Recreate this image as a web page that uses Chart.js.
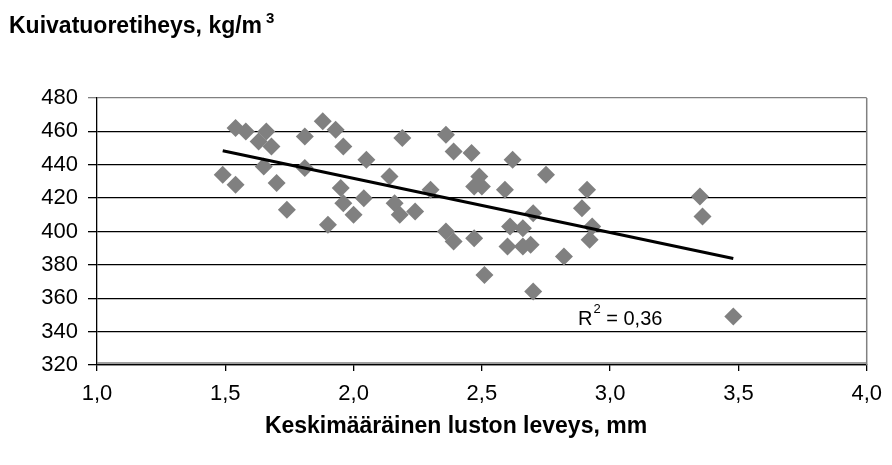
<!DOCTYPE html>
<html>
<head>
<meta charset="utf-8">
<script src="https://cdn.jsdelivr.net/npm/chart.js@4/dist/chart.umd.min.js"></script>
<style>
  html, body { margin: 0; padding: 0; background: #fff; }
  #wrap { width: 892px; height: 465px; }
</style>
</head>
<body>
<div id="wrap"><canvas id="chart" width="892" height="465"></canvas></div>
<script>
// mean ring width (mm) vs. dry-fresh density (kg/m3)
const ringWidth = [
  1.49, 1.54, 1.54, 1.58, 1.63, 1.66, 1.68, 1.65, 1.70, 1.74,
  1.81, 1.81, 1.88, 1.93, 1.96, 1.90, 1.95, 1.96, 2.00, 2.04,
  2.05, 2.14, 2.16, 2.18, 2.19, 2.24, 2.30, 2.36, 2.39, 2.46,
  2.49, 2.47, 2.50, 2.59, 2.62, 2.75, 2.36, 2.39, 2.47, 2.51,
  2.61, 2.66, 2.60, 2.66, 2.69, 2.70, 2.70, 2.82, 2.89, 2.91,
  2.93, 2.92, 3.35, 3.36, 3.48
];
const density = [
  434, 428, 462, 460, 454, 460, 451, 439, 429, 413,
  457, 438, 466, 461, 451, 404, 426, 417, 410, 420,
  443, 433, 417, 410, 456, 412, 425, 458, 448, 447,
  433, 427, 427, 425, 443, 434, 400, 394, 396, 374,
  403, 402, 391, 391, 392, 411, 364, 385, 414, 425,
  403, 395, 421, 409, 349
];

// linear trend, end points
const trendX = [1.49, 3.48];
const trendY = [448.4, 383.8];

const xMin = 1, xMax = 4, xStep = 0.5;
const yMin = 320, yMax = 480, yStep = 20;

const yTitle = ['Kuivatuoretiheys, kg/m', '3'];
const xTitle = 'Keskimääräinen luston leveys, mm';
const r2Label = ['R', '2', ' = 0,36'];

const FONT = "'Liberation Sans', Arial, sans-serif";
const GREY = '#808080';

const toPoints = (xs, ys) => xs.map((x, i) => ({ x, y: ys[i] }));

// grey plot frame on the top and right, like the spreadsheet plot area
const frame = {
  id: 'frame',
  beforeDatasetsDraw(chart) {
    const { ctx, chartArea: a } = chart;
    ctx.save();
    ctx.strokeStyle = GREY;
    ctx.lineWidth = 1.5;
    ctx.beginPath();
    ctx.moveTo(a.right, a.top);
    ctx.lineTo(a.right, a.bottom);
    ctx.moveTo(a.left, a.bottom - 2);
    ctx.lineTo(a.right, a.bottom - 2);
    ctx.stroke();
    ctx.restore();
  }
};

// titles and the R² note
const labels = {
  id: 'labels',
  afterDraw(chart) {
    const ctx = chart.ctx;
    ctx.save();
    ctx.fillStyle = '#000';
    ctx.textBaseline = 'alphabetic';

    ctx.font = `bold 23px ${FONT}`;
    ctx.textAlign = 'left';
    ctx.fillText(yTitle[0], 9, 33);
    const w = ctx.measureText(yTitle[0]).width;
    ctx.font = `bold 15px ${FONT}`;
    ctx.fillText(yTitle[1], 9 + w + 4, 23);

    ctx.font = `bold 23px ${FONT}`;
    ctx.textAlign = 'center';
    ctx.fillText(xTitle, 456, 433);

    ctx.textAlign = 'left';
    ctx.font = `20px ${FONT}`;
    ctx.fillText(r2Label[0], 578, 324.5);
    const rw = ctx.measureText(r2Label[0]).width;
    ctx.font = `13px ${FONT}`;
    ctx.fillText(r2Label[1], 578 + rw + 1, 313);
    const sw = ctx.measureText(r2Label[1]).width;
    ctx.font = `20px ${FONT}`;
    ctx.fillText(r2Label[2], 578 + rw + sw + 1, 324.5);
    ctx.restore();
  }
};

new Chart(document.getElementById('chart'), {
  type: 'scatter',
  data: {
    datasets: [
      {
        type: 'line',
        data: toPoints(trendX, trendY),
        borderColor: '#000',
        borderWidth: 3,
        pointRadius: 0,
        fill: false,
        order: 0
      },
      {
        data: toPoints(ringWidth, density),
        pointStyle: 'rectRot',
        pointRadius: 9,
        backgroundColor: GREY,
        borderColor: GREY,
        borderWidth: 0,
        order: 1
      }
    ]
  },
  options: {
    responsive: false,
    animation: false,
    devicePixelRatio: 1,
    layout: { padding: { top: 98, right: 21, left: 0, bottom: 0 } },
    plugins: { legend: { display: false }, tooltip: { enabled: false } },
    scales: {
      x: {
        type: 'linear',
        min: xMin, max: xMax,
        afterFit: s => { s.height = 100; },
        ticks: {
          stepSize: xStep,
          color: '#000',
          padding: 10,
          font: { family: FONT, size: 22 },
          callback: v => v.toFixed(1).replace('.', ',')
        },
        grid: { drawOnChartArea: false, color: '#000', tickLength: 6, lineWidth: 1.3 },
        border: { color: '#000', width: 1.3 }
      },
      y: {
        min: yMin, max: yMax,
        afterFit: s => { s.width = 97; },
        ticks: {
          stepSize: yStep,
          color: '#000',
          padding: 10,
          font: { family: FONT, size: 22 },
          callback: v => String(v)
        },
        grid: {
          color: c => (c.tick && c.tick.value === yMax ? GREY : '#000'),
          lineWidth: 1.3,
          tickLength: 9
        },
        border: { color: '#000', width: 1.3 }
      }
    }
  },
  plugins: [frame, labels]
});
</script>
</body>
</html>
